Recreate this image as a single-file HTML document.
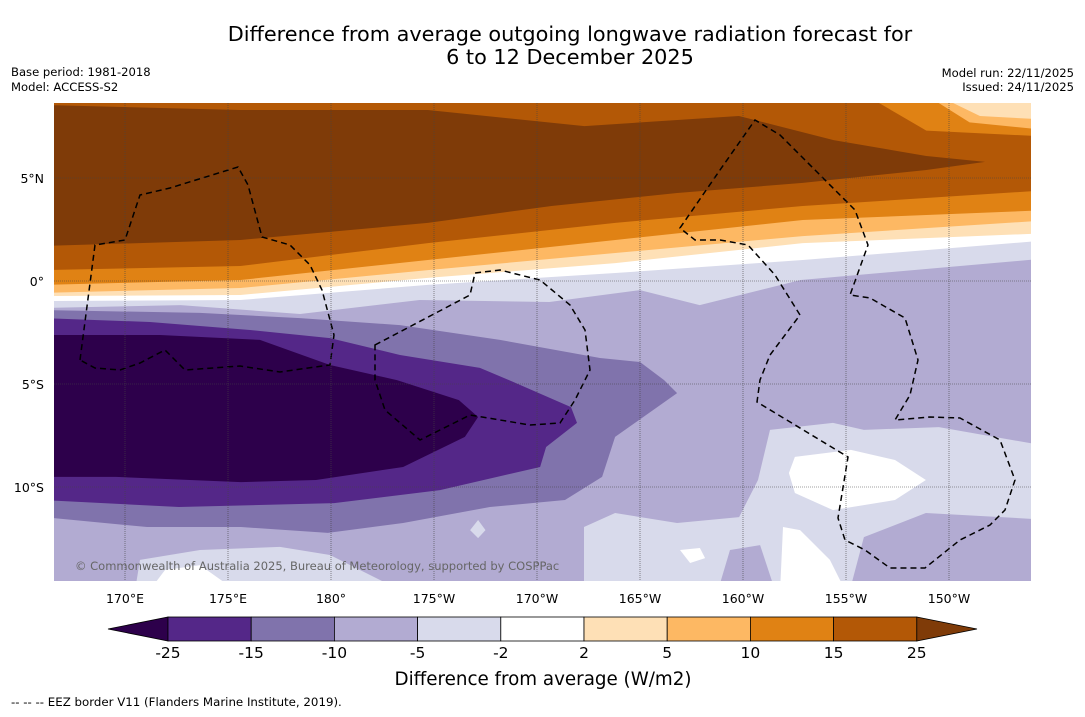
<!DOCTYPE html>
<html><head><meta charset="utf-8">
<style>
body{margin:0;background:#fff;width:1085px;height:713px;overflow:hidden;font-family:"DejaVu Sans","Liberation Sans",sans-serif;}
svg text{font-family:"DejaVu Sans","Liberation Sans",sans-serif;}
</style></head>
<body>
<svg id="chart" width="1085" height="713" viewBox="0 0 1085 713" xmlns="http://www.w3.org/2000/svg">
<defs><clipPath id="plotclip"><rect x="54" y="103" width="977" height="478"/></clipPath></defs>
<text x="570" y="41" font-size="20.8" text-anchor="middle">Difference from average outgoing longwave radiation forecast for</text>
<text x="570" y="64" font-size="20.8" text-anchor="middle">6 to 12 December 2025</text>
<text x="11" y="76" font-size="11.6">Base period: 1981-2018</text>
<text x="11" y="91" font-size="11.6">Model: ACCESS-S2</text>
<text x="1074" y="77" font-size="11.6" text-anchor="end">Model run: 22/11/2025</text>
<text x="1074" y="91" font-size="11.6" text-anchor="end">Issued: 24/11/2025</text>
<g id="plot" clip-path="url(#plotclip)"></g>
<g id="eez" clip-path="url(#plotclip)" fill="none" stroke="#000" stroke-width="1.5" stroke-dasharray="6,4">
<path d="M80,360 L95,245 L125,240 L140,195 L170,188 L238,167 L248,185 L262,237 L290,245 L310,265 L322,290 L334,335 L330,365 L315,367 L280,372 L240,366 L185,370 L165,350 L140,363 L120,370 L95,368 Z"/>
<path d="M375,345 L470,295 L475,273 L500,270 L540,280 L570,305 L585,330 L590,370 L575,400 L560,423 L530,425 L470,415 L420,440 L385,410 L375,380 Z"/>
<path d="M680,228 L720,170 L755,120 L780,135 L820,175 L855,210 L868,245 L850,295 L870,298 L905,318 L918,360 L910,395 L895,420 L930,417 L960,418 L1000,440 L1015,480 L1005,510 L990,525 L960,540 L925,568 L890,568 L865,550 L845,540 L838,518 L848,457 L757,402 L760,380 L770,355 L800,315 L775,275 L748,245 L720,240 L695,240 Z"/>
</g>
<text x="75" y="570" font-size="11.5" fill="#666">© Commonwealth of Australia 2025, Bureau of Meteorology, supported by COSPPac</text>
<g id="axes"></g>
<g id="cbar"></g>
<text x="543" y="685" font-size="18.3" text-anchor="middle">Difference from average (W/m2)</text>
<text x="11" y="706" font-size="11.8">--  --  -- EEZ border V11 (Flanders Marine Institute, 2019).</text>
</svg>
<script>
// ---- data (lon 0-360, lat) ----
const bandLons=[166,175.6,184.7,193.8,202.9,215];
const lvl15=[0.53,0.73,1.84,2.82,3.64,4.42];
const lvl10=[-0.19,0.05,1.02,1.99,2.96,3.45];
const lvl5=[-0.58,-0.34,0.53,1.36,2.18,2.96];
const lvl2=[-0.73,-0.68,0.15,0.87,1.84,2.33];
const lvlm2=[-0.97,-0.92,-0.19,0.39,1.02,1.99];
const lvlm5Lons=[166,172.7,178.5,184.3,190.6,195,197.9,202.8,215];
const lvlm5=[-1.31,-1.17,-1.60,-0.92,-1.02,-0.44,-1.17,0.05,1.12];
const dark25=[[166,8.55],[175.6,8.3],[184.7,8.3],[192.3,7.52],[199.8,8.01],[204.4,6.84],[208.9,6.07],[211.75,5.78],[208.9,5.39],[202.9,4.76],[196.8,4.27],[190.7,3.64],[184.7,2.82],[175.6,1.99],[166,1.7]];
const topRight10=[[206.6,9],[206.6,8.64],[208.9,7.3],[215,7.0],[215,9]];
const topRight5=[[209.5,9],[209.5,8.64],[211.0,7.7],[215,7.3],[215,9]];
const topRight2=[[210.2,9],[210.2,8.64],[211.5,8.01],[215,7.82],[215,9]];
const purple10=[[166,-1.41],[173.64,-1.55],[178.5,-1.8],[183.35,-2.14],[188.2,-2.86],[193.06,-3.74],[195,-3.93],[196.17,-4.81],[196.8,-5.44],[193.79,-7.57],[193.16,-9.51],[191.36,-10.63],[187.72,-10.97],[183.5,-11.75],[179.85,-12.23],[175.63,-11.94],[171.07,-11.94],[166,-11.46]];
const purple15=[[166,-1.8],[171.21,-1.99],[176.07,-2.38],[179.95,-2.77],[183.35,-3.59],[187.23,-4.22],[188.64,-4.81],[191.65,-6.12],[191.94,-6.89],[190.44,-8.06],[190.15,-9.03],[185.29,-10.15],[180.15,-10.78],[172.62,-10.97],[166,-10.63]];
const purple25=[[166,-2.62],[171.7,-2.62],[176.55,-2.86],[179.95,-4.08],[183.2,-4.81],[186.21,-5.78],[187.14,-6.6],[186.5,-7.57],[183.5,-9.03],[179.27,-9.66],[175.63,-9.76],[169.56,-9.51],[166,-9.51]];
const southLightW=[[170.49,-15],[170.73,-13.54],[173.64,-13.06],[177.52,-12.91],[179.95,-13.3],[181.41,-14.03],[183.35,-15]];
const southWhiteW=[[171.21,-15],[171.94,-14.03],[173.64,-13.79],[175.34,-15]];
const diamondLight=[[187.14,-11.6],[187.5,-12.09],[187.14,-12.48],[186.75,-12.09]];
const southLightE=[[192.28,-15],[192.28,-11.94],[193.79,-11.26],[196.8,-11.75],[199.81,-11.46],[200.73,-9.66],[201.31,-7.23],[204.37,-6.89],[205.87,-7.23],[209.51,-7.09],[215,-8.06],[215,-11.6],[208.88,-11.26],[205.87,-12.43],[205.19,-15]];
const patchMidE=[[198.79,-15],[199.37,-13.06],[200.83,-12.82],[201.55,-15]];
const whiteBlob=[[202.52,-8.54],[205.24,-8.2],[207.38,-8.69],[208.88,-9.66],[207.38,-10.63],[204.37,-11.12],[202.52,-10.29],[202.23,-9.32]];
const whiteBottom=[[201.94,-11.94],[202.77,-12.09],[204.22,-13.54],[204.95,-15],[201.8,-15]];
const whiteSmall=[[196.94,-13.06],[197.91,-12.96],[198.16,-13.45],[197.43,-13.69]];
const lonTicks=[170,175,180,185,190,195,200,205,210];
const lonTickLabels=["170°E","175°E","180°","175°W","170°W","165°W","160°W","155°W","150°W"];
const latTicks=[5,0,-5,-10];
const latTickLabels=["5°N","0°","5°S","10°S"];
const cbarLevels=["-25","-15","-10","-5","-2","2","5","10","15","25"];
const cbarColors=["#2d004b","#542788","#8073ac","#b2abd2","#d8daeb","#ffffff","#fee0b6","#fdb863","#e08214","#b35806","#7f3b08"];

// ---- axis functions ----
const X=lon=>331+(lon-180)*20.6;
const Y=lat=>281-lat*20.6;
const NS='http://www.w3.org/2000/svg';
function mk(tag,attrs,parent){const e=document.createElementNS(NS,tag);for(const k in attrs)e.setAttribute(k,attrs[k]);parent.appendChild(e);return e;}
const plot=document.getElementById('plot');
function poly(pts,fill,name){
  const d='M'+pts.map(p=>X(p[0]).toFixed(1)+','+Y(p[1]).toFixed(1)).join(' L')+' Z';
  const e=mk('path',{d:d,fill:fill},plot);
  
  
}
function bandUp(lons,lats,fill,name){
  const pts=lons.map((l,i)=>[l,lats[i]]);
  pts.push([lons[lons.length-1],10]);pts.push([lons[0],10]);
  poly(pts,fill,name);
}
const bg=mk('rect',{x:54,y:103,width:977,height:478,fill:'#b2abd2'},plot);


bandUp(lvlm5Lons,lvlm5,'#d8daeb','band-minus5-to-minus2');
bandUp(bandLons,lvlm2,'#ffffff','band-minus2-to-2');
bandUp(bandLons,lvl2,'#fee0b6','band-2-to-5');
bandUp(bandLons,lvl5,'#fdb863','band-5-to-10');
bandUp(bandLons,lvl10,'#e08214','band-10-to-15');
bandUp(bandLons,lvl15,'#b35806','band-15-to-25');
poly(dark25,'#7f3b08','band-above-25');
poly(topRight10,'#e08214','top-right-10-to-15');
poly(topRight5,'#fdb863','top-right-5-to-10');
poly(topRight2,'#fee0b6','top-right-2-to-5');
poly(purple10,'#8073ac','band-minus15-to-minus10');
poly(purple15,'#542788','band-minus25-to-minus15');
poly(purple25,'#2d004b','band-below-minus25');
poly(southLightW,'#d8daeb','south-west-light-region');
poly(southWhiteW,'#ffffff','south-west-white-region');
poly(diamondLight,'#d8daeb','small-light-patch');
poly(southLightE,'#d8daeb','south-east-light-region');
poly(patchMidE,'#b2abd2','south-east-mid-patch');
poly(whiteBlob,'#ffffff','south-east-white-blob');
poly(whiteBottom,'#ffffff','south-east-white-bottom');
poly(whiteSmall,'#ffffff','small-white-patch');

// gridlines & ticks
const axes=document.getElementById('axes');
lonTicks.forEach((l,i)=>{
  const g=mk('line',{x1:X(l),x2:X(l),y1:103,y2:581,stroke:'#444','stroke-width':0.6,'stroke-dasharray':'1,1'},axes);
  
  
  const t=mk('text',{x:X(l),y:603,'font-size':12.5,'text-anchor':'middle'},axes);t.textContent=lonTickLabels[i];
  
  
});
latTicks.forEach((l,i)=>{
  const g=mk('line',{x1:54,x2:1031,y1:Y(l),y2:Y(l),stroke:'#444','stroke-width':0.6,'stroke-dasharray':'1,1'},axes);
  
  
  const t=mk('text',{x:44,y:Y(l)+5,'font-size':12.5,'text-anchor':'end'},axes);t.textContent=latTickLabels[i];
  
  
});

// colorbar
const cb=document.getElementById('cbar');
const cx0=168,cw=83.2,cy=617,ch=24;
const lt=mk('polygon',{points:`108,${cy+ch/2} ${cx0},${cy} ${cx0},${cy+ch}`,fill:cbarColors[0],stroke:'#000','stroke-width':0.8},cb);


for(let i=0;i<9;i++){
  const r=mk('rect',{x:cx0+i*cw,y:cy,width:cw,height:ch,fill:cbarColors[i+1],stroke:'#000','stroke-width':0.8},cb);
  
  
}
const xe=cx0+9*cw;
const rt=mk('polygon',{points:`${xe},${cy} 977,${cy+ch/2} ${xe},${cy+ch}`,fill:cbarColors[10],stroke:'#000','stroke-width':0.8},cb);


cbarLevels.forEach((s,i)=>{
  const t=mk('text',{x:cx0+i*cw,y:658,'font-size':15.5,'text-anchor':'middle'},cb);t.textContent=s;
  
  
});
</script>
</body></html>
